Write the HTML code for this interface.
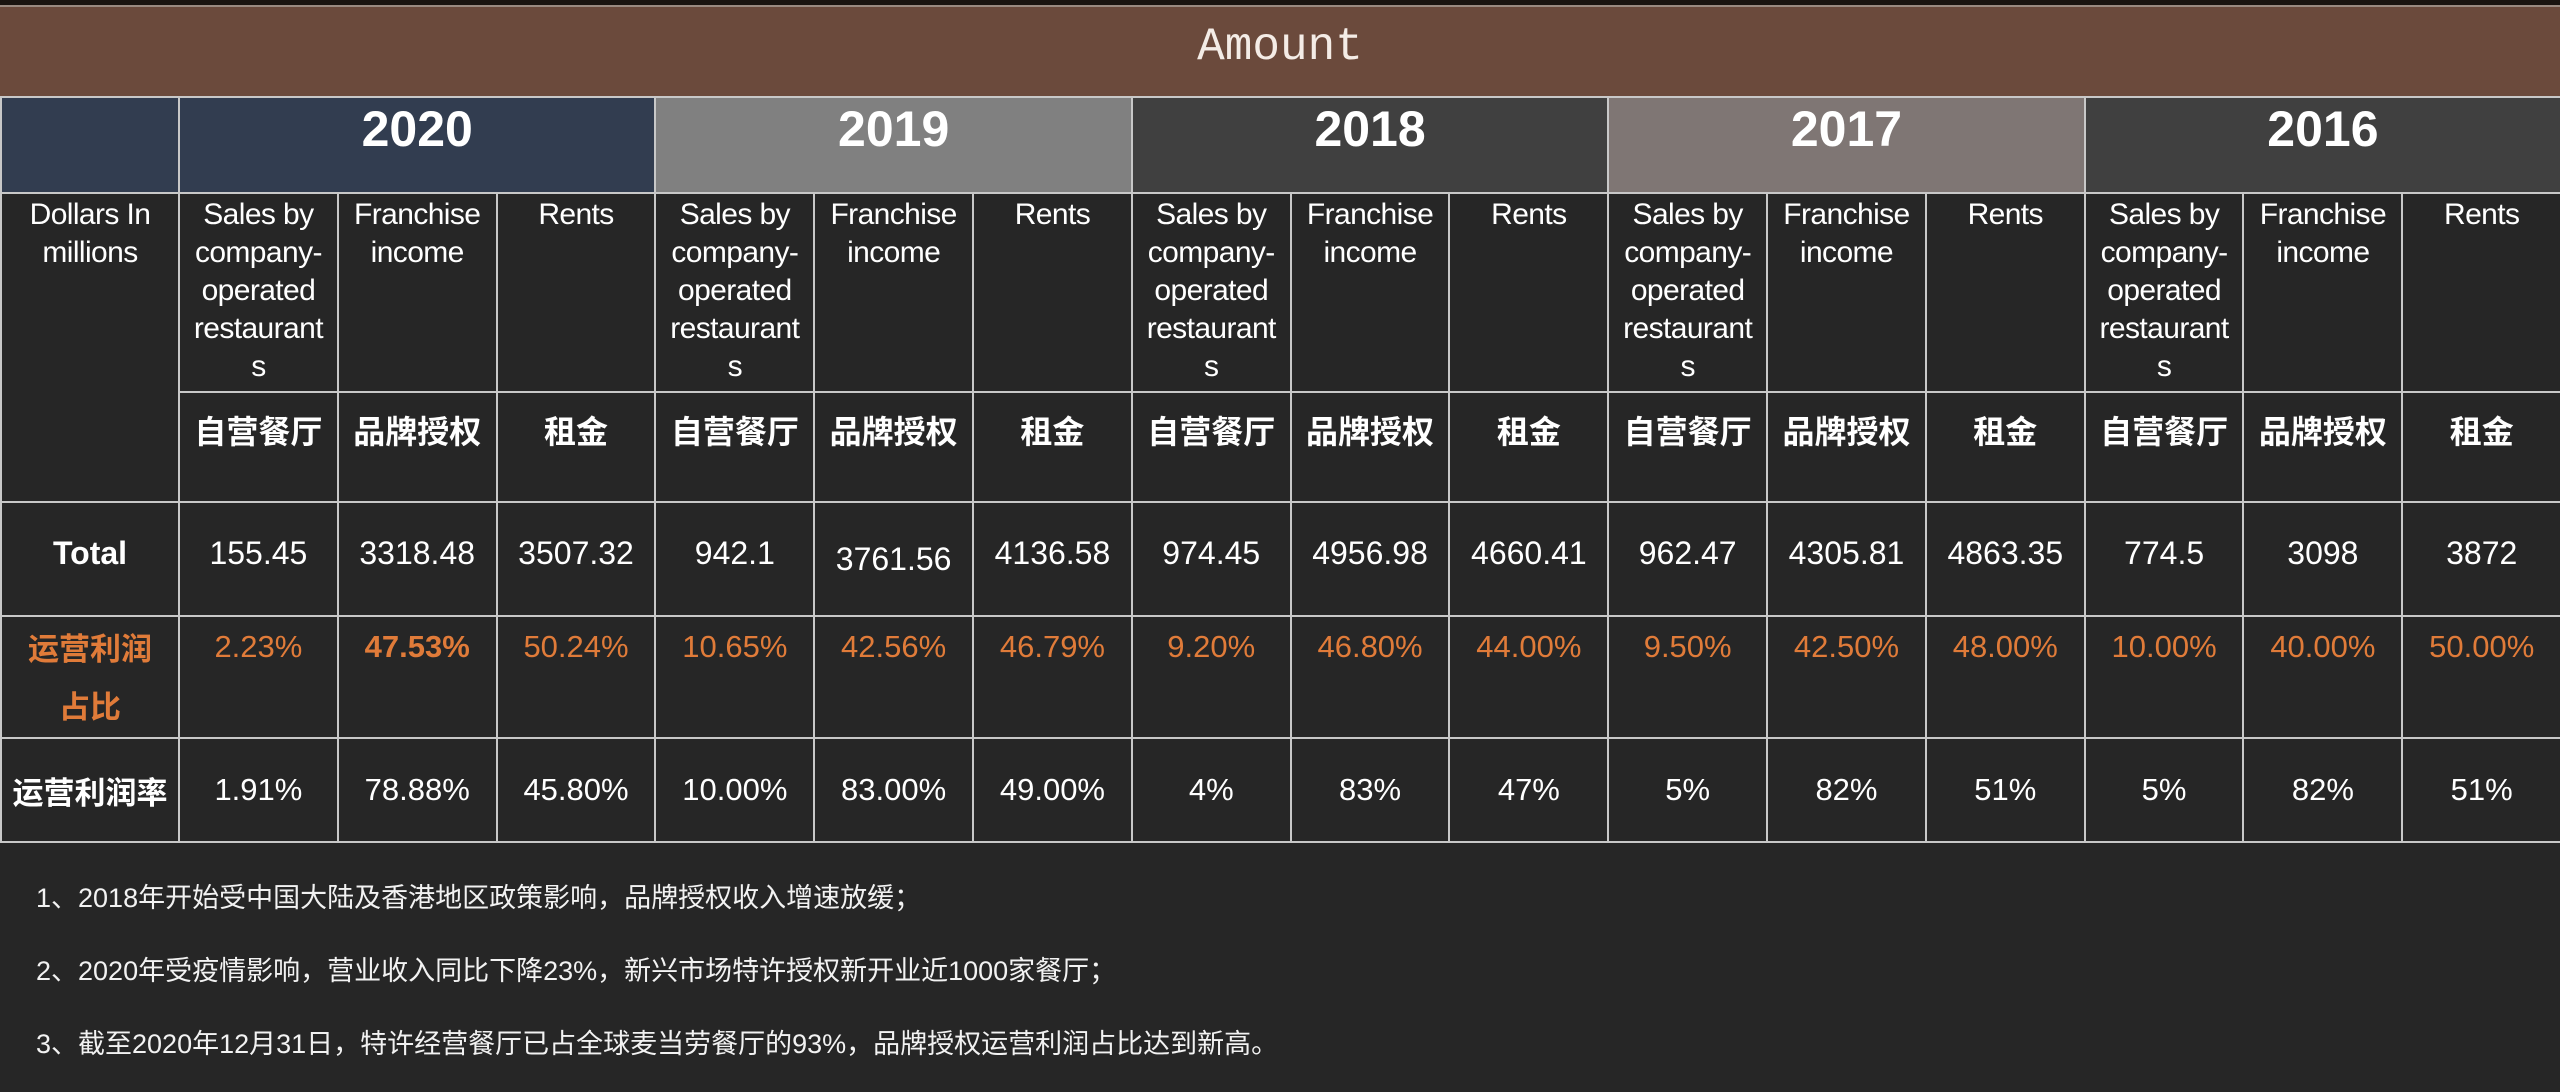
<!DOCTYPE html>
<html><head><meta charset="utf-8">
<style>
html,body{margin:0;padding:0;background:#262626;}
body{width:2560px;height:1092px;overflow:hidden;position:relative;font-family:"Liberation Sans","Noto Sans CJK SC",sans-serif;color:#fff;}
#topstrip{position:absolute;left:0;top:0;width:2560px;height:5px;background:#1a1410;}
#title{position:absolute;left:0;top:5px;width:2560px;height:91px;background:#6b4a3c;border-top:2px solid #9a8a80;box-sizing:border-box;text-align:center;line-height:80px;font-family:"Liberation Mono","Noto Serif CJK SC",monospace;font-size:46px;color:#f4ece6;}
table{position:absolute;left:0;top:96px;border-collapse:collapse;table-layout:fixed;width:2560px;}
td{border:2px solid #c8c8c8;padding:0;text-align:center;overflow:hidden;}
.yr td{height:94px;font-size:50px;font-weight:bold;vertical-align:top;line-height:62px;}
.hd td{height:195px;vertical-align:top;font-size:30px;line-height:38px;padding-top:2px;letter-spacing:-0.6px;}
.cn td{height:94px;vertical-align:top;font-size:32px;font-weight:bold;padding-top:14px;font-family:"Noto Sans CJK SC",sans-serif;}
.tot td{height:112px;font-size:32px;}
.rat td{height:108px;font-size:31px;color:#e07b39;vertical-align:top;padding-top:12px;}
.rate td{height:102px;font-size:31px;}
.lbl{font-weight:bold;font-family:"Liberation Sans","Noto Sans CJK SC",sans-serif;}
#notes{position:absolute;left:36px;top:862px;font-size:27px;line-height:73px;font-family:"Liberation Sans","Noto Sans CJK SC",sans-serif;color:#f2f2f2;}
</style></head><body>
<div id="topstrip"></div>
<div id="title">Amount</div>
<table>
<colgroup><col style="width:178px"><col span="15" style="width:158.8px"></colgroup>
<tr class="yr">
<td style="background:#323d50"></td>
<td colspan="3" style="background:#323d50">2020</td>
<td colspan="3" style="background:#808080">2019</td>
<td colspan="3" style="background:#404040">2018</td>
<td colspan="3" style="background:#7f7674">2017</td>
<td colspan="3" style="background:#404040">2016</td>
</tr>
<tr class="hd">
<td rowspan="2">Dollars In<br>millions</td>
<td>Sales by<br>company-<br>operated<br>restaurant<br>s</td><td>Franchise<br>income</td><td>Rents</td>
<td>Sales by<br>company-<br>operated<br>restaurant<br>s</td><td>Franchise<br>income</td><td>Rents</td>
<td>Sales by<br>company-<br>operated<br>restaurant<br>s</td><td>Franchise<br>income</td><td>Rents</td>
<td>Sales by<br>company-<br>operated<br>restaurant<br>s</td><td>Franchise<br>income</td><td>Rents</td>
<td>Sales by<br>company-<br>operated<br>restaurant<br>s</td><td>Franchise<br>income</td><td>Rents</td>
</tr>
<tr class="cn">
<td>自营餐厅</td><td>品牌授权</td><td>租金</td>
<td>自营餐厅</td><td>品牌授权</td><td>租金</td>
<td>自营餐厅</td><td>品牌授权</td><td>租金</td>
<td>自营餐厅</td><td>品牌授权</td><td>租金</td>
<td>自营餐厅</td><td>品牌授权</td><td>租金</td>
</tr>
<tr class="tot">
<td class="lbl"><span style="position:relative;top:-6px">Total</span></td>
<td><span style="position:relative;top:-6px">155.45</span></td><td><span style="position:relative;top:-6px">3318.48</span></td><td><span style="position:relative;top:-6px">3507.32</span></td>
<td><span style="position:relative;top:-6px">942.1</span></td><td>3761.56</td><td><span style="position:relative;top:-6px">4136.58</span></td>
<td><span style="position:relative;top:-6px">974.45</span></td><td><span style="position:relative;top:-6px">4956.98</span></td><td><span style="position:relative;top:-6px">4660.41</span></td>
<td><span style="position:relative;top:-6px">962.47</span></td><td><span style="position:relative;top:-6px">4305.81</span></td><td><span style="position:relative;top:-6px">4863.35</span></td>
<td><span style="position:relative;top:-6px">774.5</span></td><td><span style="position:relative;top:-6px">3098</span></td><td><span style="position:relative;top:-6px">3872</span></td>
</tr>
<tr class="rat">
<td class="lbl" style="font-size:31px;line-height:58px;padding-top:4px;height:116px">运营利润<br>占比</td>
<td>2.23%</td><td style="font-weight:bold">47.53%</td><td>50.24%</td>
<td>10.65%</td><td>42.56%</td><td>46.79%</td>
<td>9.20%</td><td>46.80%</td><td>44.00%</td>
<td>9.50%</td><td>42.50%</td><td>48.00%</td>
<td>10.00%</td><td>40.00%</td><td>50.00%</td>
</tr>
<tr class="rate">
<td class="lbl">运营利润率</td>
<td>1.91%</td><td>78.88%</td><td>45.80%</td>
<td>10.00%</td><td>83.00%</td><td>49.00%</td>
<td>4%</td><td>83%</td><td>47%</td>
<td>5%</td><td>82%</td><td>51%</td>
<td>5%</td><td>82%</td><td>51%</td>
</tr>
</table>
<div id="notes">
<div>1、2018年开始受中国大陆及香港地区政策影响，品牌授权收入增速放缓；</div>
<div>2、2020年受疫情影响，营业收入同比下降23%，新兴市场特许授权新开业近1000家餐厅；</div>
<div>3、截至2020年12月31日，特许经营餐厅已占全球麦当劳餐厅的93%，品牌授权运营利润占比达到新高。</div>
</div>
</body></html>
